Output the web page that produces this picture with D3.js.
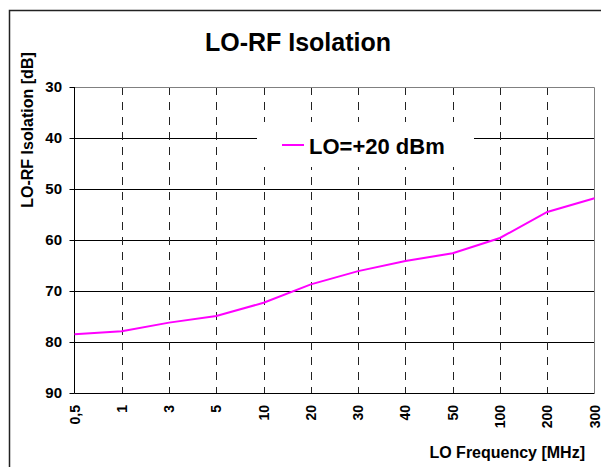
<!DOCTYPE html>
<html>
<head>
<meta charset="utf-8">
<script src="https://cdn.jsdelivr.net/npm/d3@7"></script>
<style>
  body { margin: 0; background: #fff; }
  svg { display: block; font-family: "Liberation Sans", Arial, sans-serif; font-weight: bold; }
</style>
</head>
<body>
<script>
// LO frequency categories (MHz) and isolation values (dB)
const freqLabels = ["0,5", "1", "3", "5", "10", "20", "30", "40", "50", "100", "200", "300"];
const isolation = [78.5, 77.9, 76.2, 74.9, 72.3, 68.7, 66.1, 64.1, 62.6, 59.6, 54.5, 51.8];
const yTicks = [30, 40, 50, 60, 70, 80, 90];
const seriesName = "LO=+20 dBm";

const width = 601, height = 467;
const plot = {left: 74.5, right: 594.5, top: 87, bottom: 393};

const svg = d3.select("body").append("svg")
    .attr("width", width)
    .attr("height", height);

// outer chart border
svg.append("rect")
    .attr("x", 9.5).attr("y", 10.5)
    .attr("width", 700).attr("height", 600)
    .attr("fill", "none")
    .attr("stroke", "#222")
    .attr("stroke-width", 1.5);

const x = d3.scalePoint()
    .domain(freqLabels)
    .range([plot.left, plot.right]);

const y = d3.scaleLinear()
    .domain([30, 90])
    .range([plot.top, plot.bottom]);

// horizontal grid
svg.append("g")
  .selectAll("line")
  .data(yTicks.slice(1, -1))
  .join("line")
    .attr("x1", plot.left).attr("x2", plot.right)
    .attr("y1", d => Math.round(y(d)) + 0.5)
    .attr("y2", d => Math.round(y(d)) + 0.5)
    .attr("stroke", "#000");

// vertical dashed grid
svg.append("g")
  .selectAll("line")
  .data(freqLabels.slice(1, -1))
  .join("line")
    .attr("x1", d => Math.round(x(d)) + 0.5)
    .attr("x2", d => Math.round(x(d)) + 0.5)
    .attr("y1", plot.top).attr("y2", plot.bottom)
    .attr("stroke", "#222")
    .attr("stroke-dasharray", "8,7");

// plot frame: top and right gray
svg.append("path")
    .attr("d", `M${plot.left},${plot.top + 0.5}H${plot.right}V${plot.bottom}`)
    .attr("fill", "none")
    .attr("stroke", "#808080");

// y axis
const yAxis = svg.append("g");
yAxis.append("line")
    .attr("x1", plot.left).attr("x2", plot.left)
    .attr("y1", plot.top).attr("y2", plot.bottom + 0.5)
    .attr("stroke", "#000");
yAxis.selectAll(".tick")
  .data(yTicks)
  .join("line")
    .attr("x1", plot.left - 5).attr("x2", plot.left)
    .attr("y1", d => Math.round(y(d)) + 0.5)
    .attr("y2", d => Math.round(y(d)) + 0.5)
    .attr("stroke", "#000");
yAxis.selectAll("text")
  .data(yTicks)
  .join("text")
    .attr("x", 62)
    .attr("y", d => y(d))
    .attr("dy", "0.36em")
    .attr("text-anchor", "end")
    .attr("font-size", 15)
    .text(d => d);

// x axis
svg.append("line")
    .attr("x1", plot.left).attr("x2", plot.right)
    .attr("y1", plot.bottom + 0.5).attr("y2", plot.bottom + 0.5)
    .attr("stroke", "#000");
svg.append("g")
  .selectAll("text")
  .data(freqLabels)
  .join("text")
    .attr("transform", d => `translate(${x(d) + 5},405) rotate(-90)`)
    .attr("text-anchor", "end")
    .attr("font-size", 14)
    .text(d => d);

// series line
const line = d3.line()
    .x((d, i) => x(freqLabels[i]))
    .y(d => y(d));
svg.append("path")
    .datum(isolation)
    .attr("d", line)
    .attr("fill", "none")
    .attr("stroke", "#ff00ff")
    .attr("stroke-width", 2);

// legend
const legend = svg.append("g");
legend.append("rect")
    .attr("x", 257).attr("y", 122)
    .attr("width", 217).attr("height", 45)
    .attr("fill", "#fff");
legend.append("line")
    .attr("x1", 282).attr("x2", 304)
    .attr("y1", 145).attr("y2", 145)
    .attr("stroke", "#ff00ff")
    .attr("stroke-width", 2);
legend.append("text")
    .attr("x", 309).attr("y", 154)
    .attr("font-size", 22)
    .text(seriesName);

// title and axis titles
svg.append("text")
    .attr("x", 298).attr("y", 51)
    .attr("text-anchor", "middle")
    .attr("font-size", 25)
    .text("LO-RF Isolation");

svg.append("text")
    .attr("transform", "translate(33,130) rotate(-90)")
    .attr("text-anchor", "middle")
    .attr("font-size", 16)
    .text("LO-RF Isolation [dB]");

svg.append("text")
    .attr("x", 585).attr("y", 458)
    .attr("text-anchor", "end")
    .attr("font-size", 16)
    .text("LO Frequency [MHz]");
</script>
</body>
</html>
